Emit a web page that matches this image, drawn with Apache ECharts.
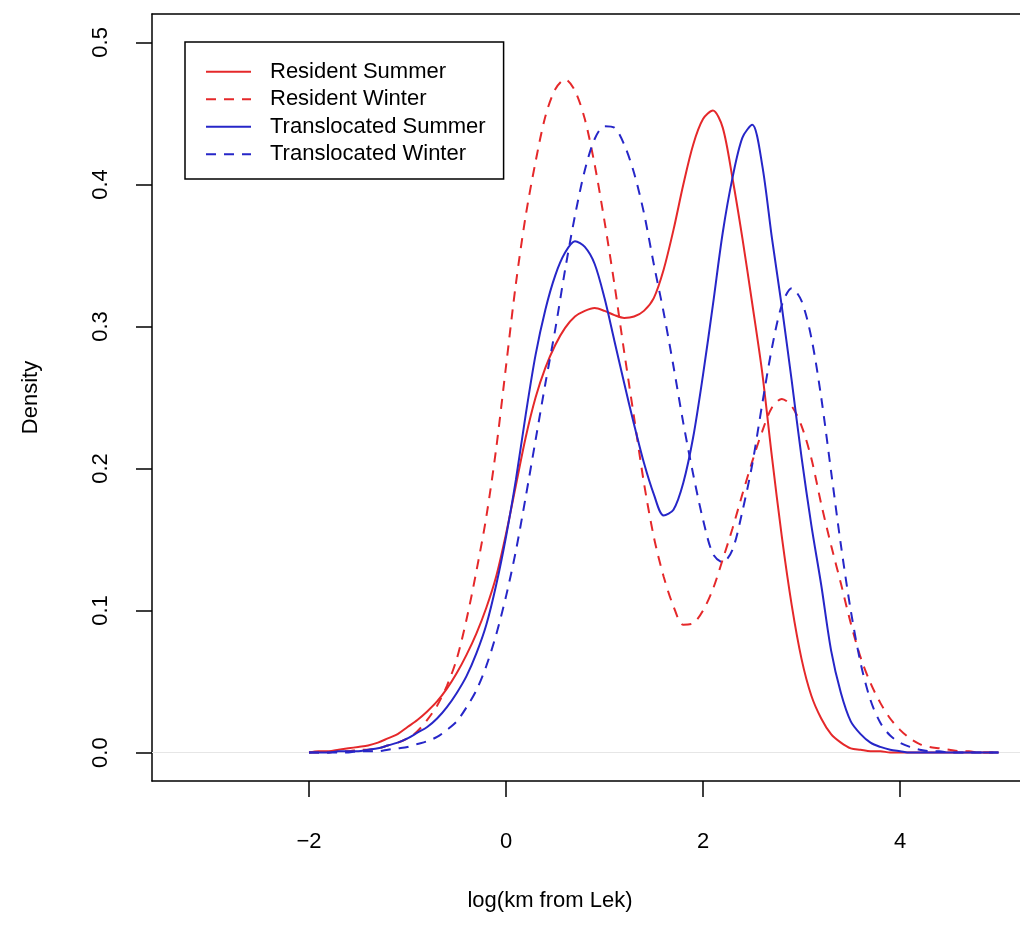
<!DOCTYPE html>
<html>
<head>
<meta charset="utf-8">
<script src="https://cdn.jsdelivr.net/npm/echarts@6/dist/echarts.min.js"></script>
<style>
html,body{margin:0;padding:0;background:#fff;}
#chart{width:1020px;height:931px;}
</style>
</head>
<body>
<div id="chart"></div>
<script>
// x grid (log km from Lek)
const xValues = [-2.0,-1.9,-1.8,-1.7,-1.6,-1.5,-1.4,-1.3,-1.2,-1.1,-1.0,-0.9,-0.8,-0.7,-0.6,-0.5,-0.4,-0.3,-0.2,-0.1,
  0.0,0.1,0.2,0.3,0.4,0.5,0.6,0.7,0.8,0.9,
  1.0,1.1,1.2,1.3,1.4,1.5,1.6,1.7,1.8,1.9,
  2.0,2.1,2.2,2.3,2.4,2.5,2.6,2.7,2.8,2.9,
  3.0,3.1,3.2,3.3,3.4,3.5,3.6,3.7,3.8,3.9,
  4.0,4.1,4.2,4.3,4.4,4.5,4.6,4.7,4.8,4.9,5.0];

const residentSummer = [0.000,0.001,0.001,0.002,0.003,0.004,0.005,0.007,0.010,0.013,0.018,0.023,0.029,0.036,0.045,0.056,0.069,0.084,0.102,0.124,
  0.154,0.188,0.222,0.250,0.271,0.287,0.299,0.307,0.311,0.313,
  0.311,0.308,0.306,0.307,0.311,0.320,0.340,0.368,0.400,0.428,
  0.446,0.452,0.440,0.404,0.362,0.316,0.268,0.208,0.152,0.104,
  0.066,0.040,0.024,0.013,0.007,0.003,0.002,0.001,0.001,0.000,
  0,0,0,0,0,0,0,0,0,0,0];

const residentWinter = [0.000,0.000,0.000,0.001,0.001,0.002,0.002,0.003,0.005,0.007,0.010,0.015,0.023,0.033,0.047,0.066,0.094,0.128,0.166,0.214,
  0.272,0.330,0.378,0.416,0.448,0.467,0.474,0.466,0.446,0.414,
  0.374,0.330,0.282,0.236,0.190,0.152,0.124,0.103,0.090,0.091,
  0.100,0.115,0.136,0.158,0.182,0.205,0.226,0.243,0.249,0.244,
  0.230,0.207,0.175,0.146,0.119,0.091,0.067,0.049,0.035,0.024,
  0.016,0.010,0.006,0.004,0.003,0.002,0.001,0.001,0.000,0.000,0.000];

const translocatedSummer = [0.000,0.000,0.000,0.001,0.001,0.001,0.002,0.003,0.005,0.007,0.010,0.014,0.018,0.024,0.032,0.042,0.054,0.070,0.090,0.118,
  0.152,0.192,0.238,0.280,0.312,0.336,0.352,0.360,0.356,0.344,
  0.320,0.290,0.260,0.231,0.204,0.182,0.167,0.171,0.190,0.222,
  0.266,0.315,0.366,0.405,0.433,0.442,0.414,0.362,0.314,0.262,
  0.208,0.160,0.118,0.072,0.042,0.022,0.013,0.007,0.004,0.002,
  0.001,0,0,0,0,0,0,0,0,0,0];

const translocatedWinter = [0.000,0.000,0.000,0.000,0.000,0.001,0.001,0.001,0.002,0.003,0.004,0.006,0.008,0.011,0.016,0.022,0.032,0.044,0.061,0.083,
  0.110,0.142,0.180,0.220,0.260,0.298,0.340,0.378,0.410,0.432,
  0.441,0.440,0.428,0.408,0.380,0.344,0.310,0.272,0.232,0.196,
  0.164,0.140,0.134,0.143,0.170,0.203,0.245,0.285,0.315,0.327,
  0.318,0.292,0.250,0.198,0.146,0.100,0.063,0.037,0.021,0.012,
  0.007,0.004,0.002,0.001,0.001,0,0,0,0,0,0];

const seriesNames = ['Resident Summer','Resident Winter','Translocated Summer','Translocated Winter'];
const xTickValues = [-2, 0, 2, 4];
const yTickValues = [0, 0.1, 0.2, 0.3, 0.4, 0.5];

const RED = '#e5282a';
const BLUE = '#2626c8';
const FONT = '"Liberation Sans", Arial, Helvetica, sans-serif';
const X_MIN = -3.594, X_MAX = 5.218;

function pairs(ys){ return xValues.map((x,i)=>[x, ys[i]]); }

const chart = echarts.init(document.getElementById('chart'), null, {renderer:'canvas'});

const mkSeries = (name, ys, color, dashed) => ({
  name, type:'line', data: pairs(ys), symbol:'none', showSymbol:false, smooth:0.3,
  xAxisIndex:0, yAxisIndex:0,
  lineStyle:{color, width:2, type: dashed ? [10,8] : 'solid'},
  itemStyle:{color}, z: 3
});

const s0 = mkSeries(seriesNames[0], residentSummer, RED, false);
s0.markLine = {
  silent:true, symbol:['none','none'], label:{show:false},
  lineStyle:{color:'#e6e6e6', width:1, type:'solid'},
  data:[{yAxis:0}], z:1
};

const boxLine = {show:true, onZero:false, lineStyle:{color:'#000', width:1.5}};

chart.setOption({
  animation:false,
  backgroundColor:'#ffffff',
  textStyle:{fontFamily:FONT, color:'#000'},
  grid:{left:152, top:14, right:0, bottom:150, show:false},
  legend:{
    orient:'vertical', left:185, top:42,
    data: seriesNames,
    itemWidth:45, itemHeight:14, itemGap:0,
    itemStyle:{opacity:0},
    padding:[16,18,11,20],
    borderColor:'#000', borderWidth:1.5,
    textStyle:{fontFamily:FONT, fontSize:22, color:'#000', lineHeight:27.5, padding:[0,0,0,14]}
  },
  xAxis:[{
    type:'value', min:X_MIN, max:X_MAX, position:'bottom',
    axisLine:boxLine,
    splitLine:{show:false},
    axisTick:{show:true, customValues:xTickValues, length:16, lineStyle:{color:'#000', width:1.5}},
    axisLabel:{customValues:xTickValues, margin:50, fontSize:22, color:'#000', fontFamily:FONT,
      formatter:v => (v<0 ? '\u2212' + Math.abs(v) : String(v))},
    name:'log(km from Lek)', nameLocation:'middle', nameGap:109,
    nameTextStyle:{fontSize:22, color:'#000', fontFamily:FONT, padding:[0,72,0,0]}
  },{
    type:'value', min:X_MIN, max:X_MAX, position:'top',
    axisLine:boxLine, axisTick:{show:false}, axisLabel:{show:false}, splitLine:{show:false}
  }],
  yAxis:{
    type:'value', min:-0.02, max:0.52,
    axisLine:boxLine,
    splitLine:{show:false},
    axisTick:{show:true, customValues:yTickValues, length:16, lineStyle:{color:'#000', width:1.5}},
    axisLabel:{customValues:yTickValues, rotate:90, margin:40, fontSize:22, color:'#000', fontFamily:FONT,
      formatter:v => v.toFixed(1)},
    name:'Density', nameLocation:'middle', nameRotate:90, nameGap:110,
    nameTextStyle:{fontSize:22, color:'#000', fontFamily:FONT}
  },
  series:[
    s0,
    mkSeries(seriesNames[1], residentWinter, RED, true),
    mkSeries(seriesNames[2], translocatedSummer, BLUE, false),
    mkSeries(seriesNames[3], translocatedWinter, BLUE, true)
  ]
});
</script>
</body>
</html>
